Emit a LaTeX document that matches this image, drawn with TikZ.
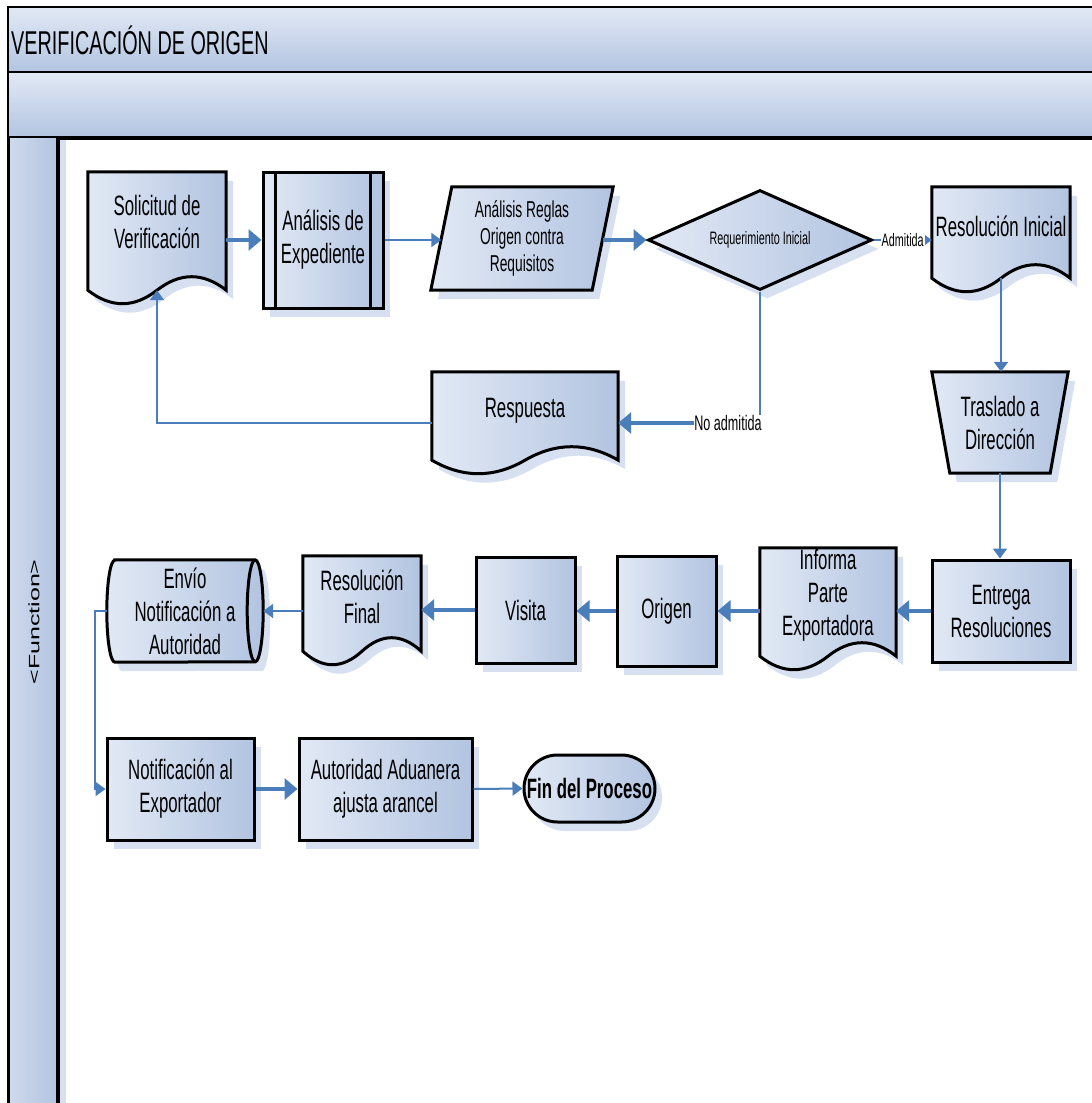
\documentclass[tikz,border=0pt]{standalone}
\usepackage{fontspec}
\setmainfont{Liberation Sans}[FakeStretch=0.6]
\newfontfamily\lanefont{Liberation Sans}
\usetikzlibrary{arrows.meta,calc,shadows,shapes.geometric,shapes.misc}

\definecolor{lite}{HTML}{E2E9F5}
\definecolor{dark}{HTML}{B2C4E1}
\definecolor{shd}{HTML}{D6E0F0}
\definecolor{arrc}{HTML}{4A7EBB}

\pgfdeclarelayer{bg}
\pgfsetlayers{bg,main}

% document outline under a text node: name, drop of the wave below the node
\newcommand{\docframe}[2]{%
  \path[shapefill] let \p1=(#1.north west), \p2=(#1.south east),
    \p3=($(#1.south)+(0,#2)$), \n1={(\x2-\x1)/6} in
    (\p1) -- (\x2,\y1) -- (\x2,\y3)
    .. controls (\x2-\n1,\y3+18pt) and (\x3+\n1,\y3+18pt) .. (\p3)
    .. controls (\x3-\n1,\y3-18pt) and (\x1+\n1,\y3-18pt) .. (\x1,\y3) -- cycle;
  \coordinate (#1-b) at ($(#1.south)+(0,#2)$);}

\begin{document}
\begin{tikzpicture}[x=1pt,y=-1pt,
  every node/.style={font=\fontsize{28}{33}\selectfont, align=center, inner sep=0pt},
  shapefill/.style={draw=black, line width=3pt, left color=lite, right color=dark,
    drop shadow={shadow xshift=7pt, shadow yshift=-9pt, fill=shd, opacity=1}},
  box/.style={shapefill, rectangle},
  txt/.style={rectangle},
  smalltext/.style={font=\fontsize{23}{27}\selectfont},
  thickarr/.style={draw=arrc, line width=4pt, -{Triangle[length=13pt,width=21pt]}},
  thinarr/.style={draw=arrc, line width=2pt, -{Triangle[length=10pt,width=14pt]}}]

\useasboundingbox (0,0) rectangle (1092,1103);

% pool header and lane
\shade[top color=lite, bottom color=dark] (8,7) rectangle (1100,72);
\shade[top color=lite, bottom color=dark] (8,72) rectangle (1100,138);
\draw[line width=2pt] (1100,7) -- (8,7) -- (8,138);
\draw[line width=2pt] (8,72) -- (1100,72);
\draw[line width=4pt] (8,138) -- (1100,138);
\node[anchor=west, font=\fontsize{33}{36}\selectfont] (title) at (11,40) {VERIFICACIÓN DE ORIGEN};

\fill[shd] (58,140) rectangle (66,1110);
\shade[left color=lite!60!dark, right color=dark] (8,138) rectangle (58,1110);
\draw[line width=3pt] (8,138) -- (8,1110);
\draw[line width=4pt] (58,138) -- (58,1110);
\node[rotate=90, yscale=0.6, font=\lanefont\fontsize{25}{28}\selectfont] (lane) at (34,622) {<Function>};

% first row
\node[txt, minimum width=138pt, minimum height=100pt] (sol) at (157,222) {Solicitud de\\Verificación};
\node[box, minimum width=120pt, minimum height=136pt] (exp) at (323,240) {Análisis de\\Expediente};
\draw[line width=3pt] ([xshift=14pt]exp.north west) -- ([xshift=14pt]exp.south west);
\draw[line width=3pt] ([xshift=-14pt]exp.north east) -- ([xshift=-14pt]exp.south east);
\node[txt, smalltext, minimum width=161pt, minimum height=103pt] (reg) at (522,238.5) {Análisis Reglas\\Origen contra\\Requisitos};
\node[diamond, shapefill, aspect=2.24, minimum width=224pt, minimum height=100pt,
  font=\fontsize{18}{20}\selectfont] (req) at (760,240) {Requerimiento Inicial};
\node[txt, minimum width=138pt, minimum height=78pt] (resi) at (1001,226) {Resolución Inicial};

% second row
\node[txt, minimum width=186pt, minimum height=78pt] (resp) at (525,411) {Respuesta};
\node[txt, minimum width=136pt, minimum height=101pt] (tras) at (1000,422.5) {Traslado a\\Dirección};
\node[font=\fontsize{21}{24}\selectfont] (noad) at (728,423) {No admitida};

% third row
\node[box, minimum width=138pt, minimum height=102pt] (ent) at (1001,611) {Entrega\\Resoluciones};
\node[txt, minimum width=136pt, minimum height=94pt] (inf) at (828,595) {Informa\\Parte\\Exportadora};
\node[box, minimum width=99pt, minimum height=110pt] (ori) at (666.5,611) {Origen};
\node[box, minimum width=99pt, minimum height=106pt] (vis) at (525.5,610) {Visita};
\node[txt, minimum width=118pt, minimum height=82pt] (resf) at (362,597) {Resolución\\Final};
\node[txt, minimum width=140pt, minimum height=102pt] (env) at (185,611) {Envío\\Notificación a\\Autoridad};

% fourth row
\node[box, minimum width=147pt, minimum height=102pt] (not) at (180.5,789) {Notificación al\\Exportador};
\node[box, minimum width=173pt, minimum height=102pt] (aut) at (385.5,789) {Autoridad Aduanera\\ajusta arancel};
\node[rounded rectangle, shapefill, minimum width=131pt, minimum height=67pt,
  font=\bfseries\fontsize{28}{33}\selectfont] (fin) at (589.5,788.5) {Fin del Proceso};

\begin{pgfonlayer}{bg}
\docframe{sol}{18}
\docframe{resi}{13}
\docframe{resp}{10}
\docframe{inf}{14}
\docframe{resf}{13}
\path[shapefill] ([xshift=10.5pt]reg.north west) -- ([xshift=10.5pt]reg.north east)
  -- ([xshift=-10.5pt]reg.south east) -- ([xshift=-10.5pt]reg.south west) -- cycle;
\path[shapefill] (tras.north west) -- (tras.north east)
  -- ([xshift=-18pt]tras.south east) -- ([xshift=18pt]tras.south west) -- cycle;
\path[shapefill] (env.north west) -- (env.north east)
  arc[start angle=90, end angle=-90, x radius=8pt, y radius=51pt]
  -- (env.south west) arc[start angle=270, end angle=90, x radius=8pt, y radius=51pt] -- cycle;
\draw[line width=3pt] (env.north east) arc[start angle=90, end angle=270, x radius=8pt, y radius=51pt];
\end{pgfonlayer}

\draw[thickarr] (sol.east |- exp.west) -- (exp.west);
\draw[thinarr] (exp.east) -- (exp.east -| reg.west);
\draw[thickarr] (req.west -| reg.east) -- (req.west);
\draw[thinarr] (req.east) -- node[fill=white, inner sep=1pt, font=\fontsize{18}{20}\selectfont] (adm) {Admitida} (req.east -| resi.west);
\draw[thinarr] (resi-b) -- (resi-b |- tras.north);
\draw[draw=arrc, line width=2pt] (req.south) -- (req.south |- noad.north);
\draw[thickarr] (noad.west) -- (noad.west -| resp.east);
\draw[thinarr] (resp.west |- noad) -| (sol-b);
\draw[thinarr] (tras.south) -- (tras.south |- ent.north);
\draw[thickarr] (ent.west) -- (ent.west -| inf.east);
\draw[thickarr] (ori.east -| inf.west) -- (ori.east);
\draw[thickarr] (ori.west) -- (ori.west -| vis.east);
\draw[thickarr] (vis.west) -- (vis.west -| resf.east);
\draw[thinarr] (env.east -| resf.west) -- ([xshift=8pt]env.east);
\draw[thinarr] ([xshift=-8pt]env.west) -- ++(-12,0) |- (not.west);
\draw[thickarr] (not.east) -- (aut.west);
\draw[thinarr] (aut.east) -- (fin.west);

\end{tikzpicture}
\end{document}
